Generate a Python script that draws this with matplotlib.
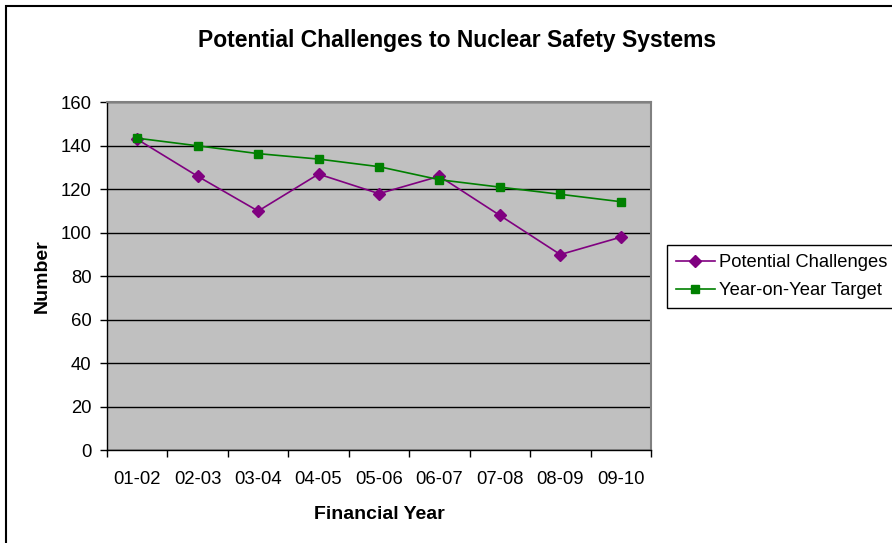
import matplotlib
matplotlib.use("Agg")
import matplotlib.pyplot as plt
from matplotlib.patches import Rectangle

plt.rcParams['font.family'] = ['Liberation Sans', 'DejaVu Sans']

years = ["01-02", "02-03", "03-04", "04-05", "05-06", "06-07", "07-08", "08-09", "09-10"]
potential_challenges = [143, 126, 110, 127, 118, 126, 108, 90, 98]
year_on_year_target = [143.5, 140, 136.4, 133.9, 130.4, 124.4, 121, 117.7, 114.3]
y_ticks = [0, 20, 40, 60, 80, 100, 120, 140, 160]

W, H = 892, 543
fig = plt.figure(figsize=(W / 100, H / 100), dpi=100)
fig.patch.set_facecolor('white')

ax = fig.add_axes([107 / W, (H - 450.3) / H, (651 - 107) / W, (450.3 - 102.3) / H])
ax.set_facecolor('#C0C0C0')

x = list(range(len(years)))
ax.plot(x, potential_challenges, color='#800080', marker='D', markersize=6,
        linewidth=1.2, label='Potential Challenges')
ax.plot(x, year_on_year_target, color='#008000', marker='s', markersize=6,
        linewidth=1.2, label='Year-on-Year Target')

ax.set_xlim(-0.5, len(years) - 0.5)
ax.set_ylim(0, 160)
ax.set_yticks(y_ticks)
ax.set_yticklabels([str(v) for v in y_ticks], fontsize=13.3)
ax.set_xticks([i - 0.5 for i in range(len(years) + 1)], minor=False)
ax.set_xticklabels([])
ax.set_xticks(x, minor=True)
ax.set_xticklabels(years, minor=True, fontsize=13.3)
ax.tick_params(axis='x', which='major', direction='out', length=5, width=1, color='black')
ax.tick_params(axis='x', which='minor', length=0, pad=15)
ax.tick_params(axis='y', direction='out', length=5, width=1, color='black', pad=6)

ax.yaxis.grid(True, color='black', linewidth=1)
ax.set_axisbelow(True)
for s in ['top', 'right']:
    ax.spines[s].set_color('#808080')
    ax.spines[s].set_linewidth(1.5)
for s in ['left', 'bottom']:
    ax.spines[s].set_color('black')
    ax.spines[s].set_linewidth(1)

ax.set_xlabel('Financial Year', fontsize=14, fontweight='bold', labelpad=13)
ax.set_ylabel('Number', fontsize=14, fontweight='bold', labelpad=7)

fig.text(457 / W, 1 - 40 / H, 'Potential Challenges to Nuclear Safety Systems',
         ha='center', va='center', fontsize=16.5, fontweight='bold')

leg = ax.legend(loc='upper left', bbox_to_anchor=(667 / W, 1 - 245 / H),
                bbox_transform=fig.transFigure, fontsize=13.2, frameon=True,
                fancybox=False, framealpha=1, edgecolor='black', borderpad=0.5,
                handlelength=2.1, handletextpad=0.25, labelspacing=0.6,
                borderaxespad=0)
leg.get_frame().set_linewidth(1)
leg.get_frame().set_facecolor('white')

border = Rectangle((6 / W, -0.1), 1.0, 1.1 - 6 / H, transform=fig.transFigure,
                   fill=False, edgecolor='black', linewidth=1.5, clip_on=False)
fig.patches.append(border)

fig.savefig('out.png', dpi=100)
